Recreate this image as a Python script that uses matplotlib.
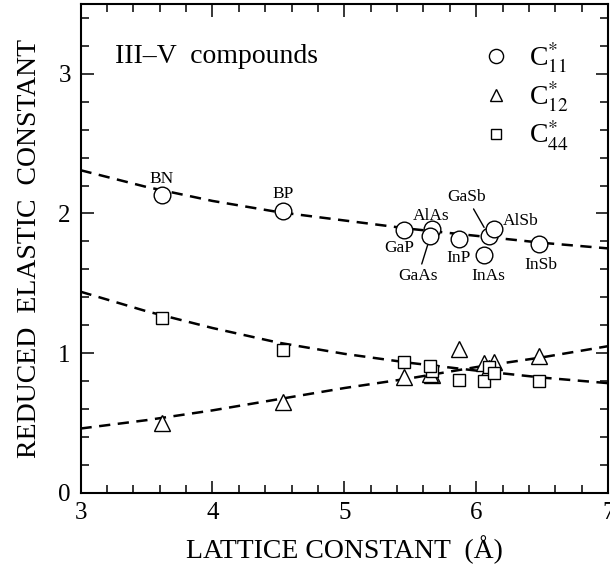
import matplotlib
matplotlib.use("Agg")
import matplotlib.pyplot as plt
from matplotlib.ticker import MultipleLocator

plt.rcParams['font.family'] = ['Liberation Serif', 'DejaVu Serif']
plt.rcParams['mathtext.fontset'] = 'stix'

# compounds and lattice constants (Angstrom)
compounds = ['BN', 'BP', 'GaP', 'AlAs', 'GaAs', 'InP', 'InAs', 'GaSb', 'AlSb', 'InSb']
lattice = [3.615, 4.538, 5.451, 5.661, 5.653, 5.869, 6.058, 6.096, 6.136, 6.479]

# reduced elastic constants
c11 = [2.13, 2.02, 1.88, 1.89, 1.84, 1.82, 1.70, 1.84, 1.89, 1.78]
c12 = [0.50, 0.65, 0.83, 0.84, 0.85, 1.03, 0.93, 0.89, 0.94, 0.98]
c44 = [1.25, 1.02, 0.94, 0.87, 0.91, 0.81, 0.80, 0.90, 0.86, 0.80]

# dashed fit curves
fit_x = [3.0, 3.5, 4.0, 4.5, 5.0, 5.5, 6.0, 6.5, 7.0]
fit_c11 = [2.31, 2.19, 2.09, 2.01, 1.95, 1.89, 1.84, 1.79, 1.75]
fit_c12 = [0.46, 0.52, 0.59, 0.67, 0.75, 0.82, 0.90, 0.97, 1.05]
fit_c44 = [1.44, 1.30, 1.18, 1.075, 0.995, 0.93, 0.875, 0.825, 0.785]

# label offsets in points relative to each C11 circle
label_offsets = {
    'BN': (0, 12), 'BP': (0, 12), 'GaP': (-3, -13), 'AlAs': (0, 9),
    'GaAs': (-9, -29), 'InP': (0, -14), 'InAs': (3, -15), 'GaSb': (-16, 28),
    'AlSb': (19, 6), 'InSb': (1, -15),
}
leaders = ['GaAs', 'GaSb']

fig = plt.figure(figsize=(6.1, 5.75), dpi=100)
ax = fig.add_axes([0.132, 0.143, 0.865, 0.850])

for fy in (fit_c11, fit_c12, fit_c44):
    ax.plot(fit_x, fy, color='black', lw=1.8, dashes=(4.5, 3), zorder=1)

mk = dict(color='black', mfc='white', mew=1.0, ls='none', zorder=3)
h11, = ax.plot(lattice, c11, marker='o', ms=12, **mk)
h12, = ax.plot(lattice, c12, marker='^', ms=11, **mk)
h44, = ax.plot(lattice, c44, marker='s', ms=8.5, **mk)

for name, x, y in zip(compounds, lattice, c11):
    dx, dy = label_offsets[name]
    arrow = None
    if name in leaders:
        arrow = dict(arrowstyle='-', color='black', lw=1.0, shrinkA=1, shrinkB=7)
    ax.annotate(name, (x, y), xytext=(dx, dy), textcoords='offset points',
                ha='center', va='center', fontsize=12.5, arrowprops=arrow,
                zorder=4)

ax.text(0.066, 0.892, 'III\u2013V  compounds', transform=ax.transAxes,
        fontsize=20, ha='left', va='center')

leg = ax.legend([h11, h12, h44],
                [r'C$_{11}^{*}$', r'C$_{12}^{*}$', r'C$_{44}^{*}$'],
                loc='upper right', bbox_to_anchor=(0.963, 0.965), frameon=False,
                fontsize=20, markerscale=0.85, handlelength=1.0,
                handletextpad=0.7, labelspacing=0.15, borderpad=0.2)

ax.set_xlim(3, 7)
ax.set_ylim(0, 3.5)
ax.xaxis.set_major_locator(MultipleLocator(1))
ax.xaxis.set_minor_locator(MultipleLocator(0.2))
ax.yaxis.set_major_locator(MultipleLocator(1))
ax.yaxis.set_minor_locator(MultipleLocator(0.2))
ax.tick_params(which='both', direction='in', top=True, right=True,
               labelsize=18, width=1.1, pad=7)
ax.tick_params(which='major', length=9)
ax.tick_params(which='minor', length=6)
for s in ax.spines.values():
    s.set_linewidth(1.5)

ax.set_xlabel('LATTICE CONSTANT  (\u00c5)', fontsize=20, labelpad=8)
ax.set_ylabel('REDUCED  ELASTIC  CONSTANT', fontsize=20, labelpad=12)

fig.savefig('out.png', dpi=100)
